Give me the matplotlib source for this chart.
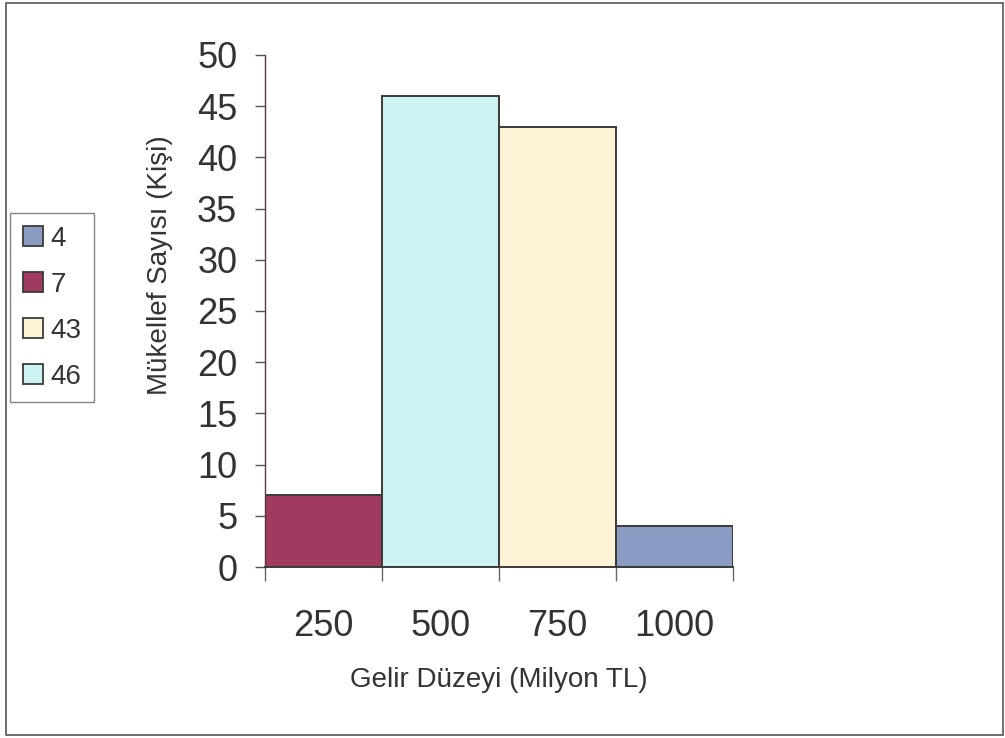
import matplotlib
matplotlib.use("Agg")
import matplotlib.pyplot as plt
from matplotlib.patches import Patch, Rectangle
import numpy as np

plt.rcParams['font.family'] = ['Liberation Sans', 'DejaVu Sans']

# Data
categories = ['250', '500', '750', '1000']
counts = [7, 46, 43, 4]
bar_colors = ['#A13A60', '#CDF2F1', '#FEF3D6', '#8B9CC2']
legend_labels = ['4', '7', '43', '46']
legend_colors = ['#8B9CC2', '#A13A60', '#FEF3D6', '#CDF2F1']

text_color = '#333333'
edge_color = '#3a3a3a'

fig = plt.figure(figsize=(10.05, 7.38), dpi=100)
ax = fig.add_axes([0.2637, 0.2317, 0.7294 - 0.2637, 0.9255 - 0.2317])

x = np.arange(len(categories))
ax.bar(x, counts, width=1.0, color=bar_colors, edgecolor=edge_color, linewidth=1.4)

ax.set_xlim(-0.5, len(categories) - 0.5)
ax.set_ylim(0, 50)
ax.set_yticks(np.arange(0, 51, 5))
ax.set_xticks(x)
ax.set_xticklabels(categories)
ax.set_xticks(np.arange(-0.5, len(categories), 1.0), minor=True)

ax.tick_params(axis='y', direction='out', length=7, width=1, color='#555555',
               labelsize=26, labelcolor=text_color, pad=13)
ax.tick_params(axis='x', which='major', length=0, labelsize=26,
               labelcolor=text_color, pad=30)
ax.tick_params(axis='x', which='minor', direction='out', length=10, width=1,
               color='#666666')

for side in ('top', 'right'):
    ax.spines[side].set_visible(False)
ax.spines['left'].set_color('#5a3a40')
ax.spines['bottom'].set_color(edge_color)
ax.spines['left'].set_linewidth(1)
ax.spines['bottom'].set_linewidth(1.4)

ax.set_xlabel('Gelir Düzeyi (Milyon TL)', fontsize=20, color=text_color)
ax.set_ylabel('Mükellef Sayısı (Kişi)', fontsize=20, color=text_color)
ax.xaxis.set_label_coords(0.5, -0.195)
ax.yaxis.set_label_coords(-0.196, 0.59)

# Legend on the left
handles = [Patch(facecolor=c, edgecolor=edge_color, linewidth=1.3) for c in legend_colors]
leg = fig.legend(handles, legend_labels, loc='upper left',
                 bbox_to_anchor=(10 / 1005, 1 - 213 / 738),
                 fontsize=20, frameon=True, fancybox=False,
                 handlelength=0.75, handleheight=0.75, handletextpad=0.25,
                 labelspacing=0.72, borderpad=0.45, borderaxespad=0)
leg.get_frame().set_edgecolor('#666666')
leg.get_frame().set_linewidth(1)
for t in leg.get_texts():
    t.set_color(text_color)

# Outer frame around the figure
fig.patches.append(Rectangle((6 / 1005, 3 / 738), 997 / 1005, 732 / 738,
                             transform=fig.transFigure, fill=False,
                             edgecolor='#555555', linewidth=1.2))

fig.savefig('out.png', dpi=100)
